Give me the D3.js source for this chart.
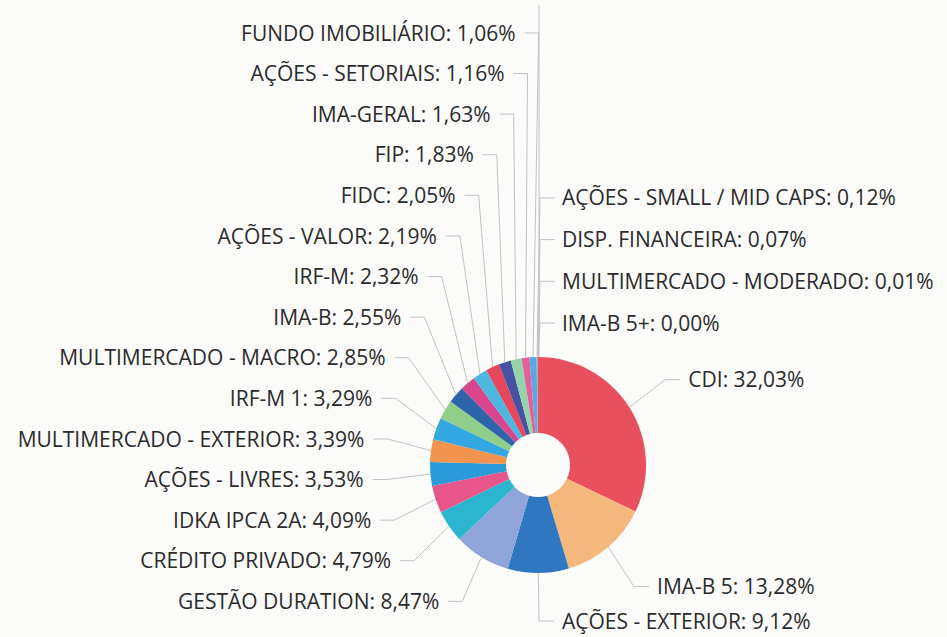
<!DOCTYPE html>
<html>
<head>
<meta charset="utf-8">
<script src="https://cdn.jsdelivr.net/npm/d3@7"></script>
<style>
  html, body { margin: 0; padding: 0; background: #fbfbfa; }
  svg { display: block; }
</style>
</head>
<body>
<svg id="chart" width="947" height="637"></svg>
<script>
// ---- data ----
const categories = [
  "CDI", "IMA-B 5", "AÇÕES - EXTERIOR", "GESTÃO DURATION", "CRÉDITO PRIVADO",
  "IDKA IPCA 2A", "AÇÕES - LIVRES", "MULTIMERCADO - EXTERIOR", "IRF-M 1",
  "MULTIMERCADO - MACRO", "IMA-B", "IRF-M", "AÇÕES - VALOR", "FIDC", "FIP",
  "IMA-GERAL", "AÇÕES - SETORIAIS", "FUNDO IMOBILIÁRIO",
  "AÇÕES - SMALL / MID CAPS", "DISP. FINANCEIRA", "MULTIMERCADO - MODERADO", "IMA-B 5+"
];
const values = [
  32.03, 13.28, 9.12, 8.47, 4.79,
  4.09, 3.53, 3.39, 3.29,
  2.85, 2.55, 2.32, 2.19, 2.05, 1.83,
  1.63, 1.16, 1.06,
  0.12, 0.07, 0.01, 0.00
];
const colors = [
  "#e9505e", "#f5b87c", "#2f77c0", "#8fa4d8", "#2bb5cf",
  "#e8558a", "#2a9ad8", "#f0944f", "#33a7e2",
  "#8fcf8a", "#2e64a8", "#d9468e", "#4cb8e2", "#e6475a", "#4653a3",
  "#93d4a8", "#e85d9c", "#5aa8e0",
  "#f0a060", "#2e7cc4", "#8fa8d8", "#2bb5cf"
];

// ---- layout ----
const W = 947, H = 637;
const cx = 538, cy = 465, R = 108, r0 = 32;
const labelR = 160, labelPad = 15;
const spacingL = 40.6, spacingR = 41.7;
const fmt = v => v.toFixed(2).replace(".", ",") + "%";

const svg = d3.select("#chart");
const g = svg.append("g").attr("transform", `translate(${cx},${cy})`);

const pie = d3.pie().sort(null).value(d => d.value);
const data = categories.map((c, i) => ({ name: c, value: values[i], color: colors[i] }));
const arcs = pie(data);
const arc = d3.arc().innerRadius(r0).outerRadius(R);

g.selectAll("path.slice").data(arcs).enter().append("path")
  .attr("class", "slice")
  .attr("d", arc)
  .attr("fill", d => d.data.color);

// label placement
const maxY = H - cy - 16;
arcs.forEach(a => {
  a.mid = (a.startAngle + a.endAngle) / 2;
  a.px = R * Math.sin(a.mid);
  a.py = -R * Math.cos(a.mid);
  a.natY = Math.min(maxY, -labelR * Math.cos(a.mid));
  a.side = a.mid < Math.PI ? "right" : "left";
});

// left side: stack upward from the lowest label; overflow goes to the right
const left = arcs.filter(a => a.side === "left").sort((a, b) => b.natY - a.natY);
const topLimit = -cy + 20;
let overflow = [];
left.forEach((a, k) => {
  const y = left[0].natY - k * spacingL;
  if (y < topLimit) { a.side = "right"; a.tiny = true; overflow.push(a); }
  else a.ly = y;
});
// right side regular labels at natural position
arcs.filter(a => a.side === "right" && !a.tiny).forEach(a => { a.ly = a.natY; });
// overflow labels stacked just above the pie top on the right
overflow.sort((a, b) => b.mid - a.mid); // last slice at bottom
const tinyBase = -R - 34;
overflow.forEach((a, k) => { a.ly = tinyBase - k * spacingR; });

arcs.forEach(a => {
  if (a.side === "left") {
    a.lx = labelR * Math.sin(a.mid) - labelPad;
  } else {
    a.lx = Math.max(24, labelR * Math.sin(a.mid) + labelPad);
  }
});

const line = d3.line();
const connColor = "#c2c2c2";

// connectors
arcs.forEach(a => {
  let pts;
  if (a.side === "left") {
    pts = [[a.lx + 9, a.ly], [a.lx + 23, a.ly], [a.px, a.py]];
  } else if (a.tiny) {
    pts = [[a.lx - 7, a.ly], [a.lx - 22, a.ly], [a.px, a.py]];
  } else {
    pts = [[a.lx - 8, a.ly], [a.lx - 23, a.ly], [a.px, a.py]];
  }
  g.append("path").attr("d", line(pts))
    .attr("fill", "none").attr("stroke", connColor).attr("stroke-width", 1);
});

// long trunk above the tiny slices (runs to the top edge)
const tinyTop = overflow.length ? overflow[overflow.length - 1] : null;
if (tinyTop) {
  g.append("path")
    .attr("d", line([[tinyTop.px + 2, tinyTop.py], [tinyTop.px + 2, -cy + 5]]))
    .attr("fill", "none").attr("stroke", connColor).attr("stroke-width", 1);
}

// labels
g.selectAll("text.lbl").data(arcs).enter().append("text")
  .attr("class", "lbl")
  .attr("x", d => d.lx)
  .attr("y", d => d.ly)
  .attr("dy", "0.36em")
  .attr("text-anchor", d => d.side === "left" ? "end" : "start")
  .attr("font-family", "'Open Sans', sans-serif")
  .attr("font-size", 21)
  .attr("fill", "#2b2b2b")
  .text(d => `${d.data.name}: ${fmt(d.data.value)}`);
</script>
</body>
</html>
